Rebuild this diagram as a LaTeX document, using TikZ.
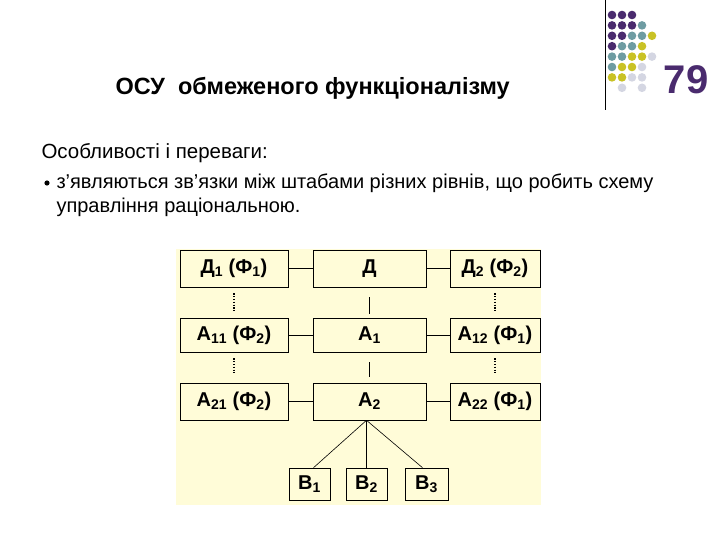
\documentclass[tikz,border=0pt]{standalone}
\usepackage{fontspec}
\setmainfont{Liberation Sans}
\definecolor{bg}{HTML}{FFFCD8}
\definecolor{dp}{HTML}{4A2B6E}
\definecolor{dt}{HTML}{6E9CA2}
\definecolor{dy}{HTML}{C9C225}
\definecolor{dg}{HTML}{D4D6E2}
\begin{document}
\begin{tikzpicture}[x=1pt,y=-1pt,
 bx/.style={draw,fill=bg,line width=0.6pt,font=\bfseries\fontsize{20}{24}\selectfont,inner sep=0pt},
 ln/.style={line width=0.6pt},
 dl/.style={line width=1.3pt,dash pattern=on 1.2pt off 1.6pt}]
\useasboundingbox (0,0) rectangle (720,540);
\fill[white] (0,0) rectangle (720,540);
% header
\draw[line width=0.8pt] (605,0) -- (605,110);
\foreach \c/\x/\y in {dp/0/0,dp/1/0,dp/2/0,
 dp/0/1,dp/1/1,dp/2/1,dt/3/1,
 dp/0/2,dp/1/2,dt/2/2,dt/3/2,dy/4/2,
 dp/0/3,dt/1/3,dt/2/3,dy/3/3,
 dt/0/4,dt/1/4,dy/2/4,dy/3/4,dg/4/4,
 dt/0/5,dy/1/5,dy/2/5,dg/3/5,
 dy/0/6,dy/1/6,dg/2/6,dg/3/6,
 dg/1/7,dg/3/7}
 \fill[\c] ({612+10*\x},{15+10.4*\y}) circle (4.3);
\node[text=dp,font=\bfseries\fontsize{40}{44}\selectfont] (num) at (686,80) {79};
\node[font=\bfseries\fontsize{23.5}{26}\selectfont,anchor=west] (title) at (112,88) {ОСУ \ обмеженого функціоналізму};
\node[font=\fontsize{20.5}{24}\selectfont,anchor=west] (t1) at (38,153) {Особливості і переваги:};
\fill[black] (47,183) circle (2.6);
\node[font=\fontsize{20}{24}\selectfont,anchor=west] (t2) at (53,183) {з’являються зв’язки між штабами різних рівнів, що робить схему};
\node[font=\fontsize{20}{24}\selectfont,anchor=west] (t3) at (53,207) {управління раціональною.};
% diagram
\fill[bg] (176,249) rectangle (541,505);
\node[bx,minimum width=108,minimum height=37] (d1) at (234,268.5) {Д$_{\mathbf 1}$ (Ф$_{\mathbf 1}$)};
\node[bx,minimum width=113,minimum height=37] (d) at (369.5,268.5) {Д};
\node[bx,minimum width=90,minimum height=37] (d2) at (495,268.5) {Д$_{\mathbf 2}$ (Ф$_{\mathbf 2}$)};
\node[bx,minimum width=108,minimum height=34] (a11) at (234,335) {А$_{\mathbf{11}}$ (Ф$_{\mathbf 2}$)};
\node[bx,minimum width=113,minimum height=34] (a1) at (369.5,335) {А$_{\mathbf 1}$};
\node[bx,minimum width=90,minimum height=34] (a12) at (495,335) {А$_{\mathbf{12}}$ (Ф$_{\mathbf 1}$)};
\node[bx,minimum width=108,minimum height=37] (a21) at (234,401.5) {А$_{\mathbf{21}}$ (Ф$_{\mathbf 2}$)};
\node[bx,minimum width=113,minimum height=37] (a2) at (369.5,401.5) {А$_{\mathbf 2}$};
\node[bx,minimum width=90,minimum height=37] (a22) at (495,401.5) {А$_{\mathbf{22}}$ (Ф$_{\mathbf 1}$)};
\node[bx,minimum width=41,minimum height=32] (b1) at (309.5,484) {В$_{\mathbf 1}$};
\node[bx,minimum width=41,minimum height=32] (b2) at (366.5,484) {В$_{\mathbf 2}$};
\node[bx,minimum width=43,minimum height=32] (b3) at (426.5,484) {В$_{\mathbf 3}$};
\foreach \l/\r in {d1/d,d/d2,a11/a1,a1/a12,a21/a2,a2/a22}
 \draw[ln] (\l) -- (\r);
\draw[ln] ([yshift=-10]d.south) -- ([yshift=4]a1.north);
\draw[ln] ([yshift=-10]a1.south) -- ([yshift=6]a2.north);
\draw[dl] ([yshift=-6]d1.south) -- ([yshift=6]a11.north);
\draw[dl] ([yshift=-6]a11.south) -- ([yshift=10]a21.north);
\draw[dl] ([yshift=-6]d2.south) -- ([yshift=6]a12.north);
\draw[dl] ([yshift=-6]a12.south) -- ([yshift=10]a22.north);
\coordinate (ap) at ([xshift=-3]a2.south);
\draw[ln] (ap) -- ([xshift=4]b1.north);
\draw[ln] (ap) -- (ap |- b2.north);
\draw[ln] (ap) -- ([xshift=-4]b3.north);
\end{tikzpicture}
\end{document}
